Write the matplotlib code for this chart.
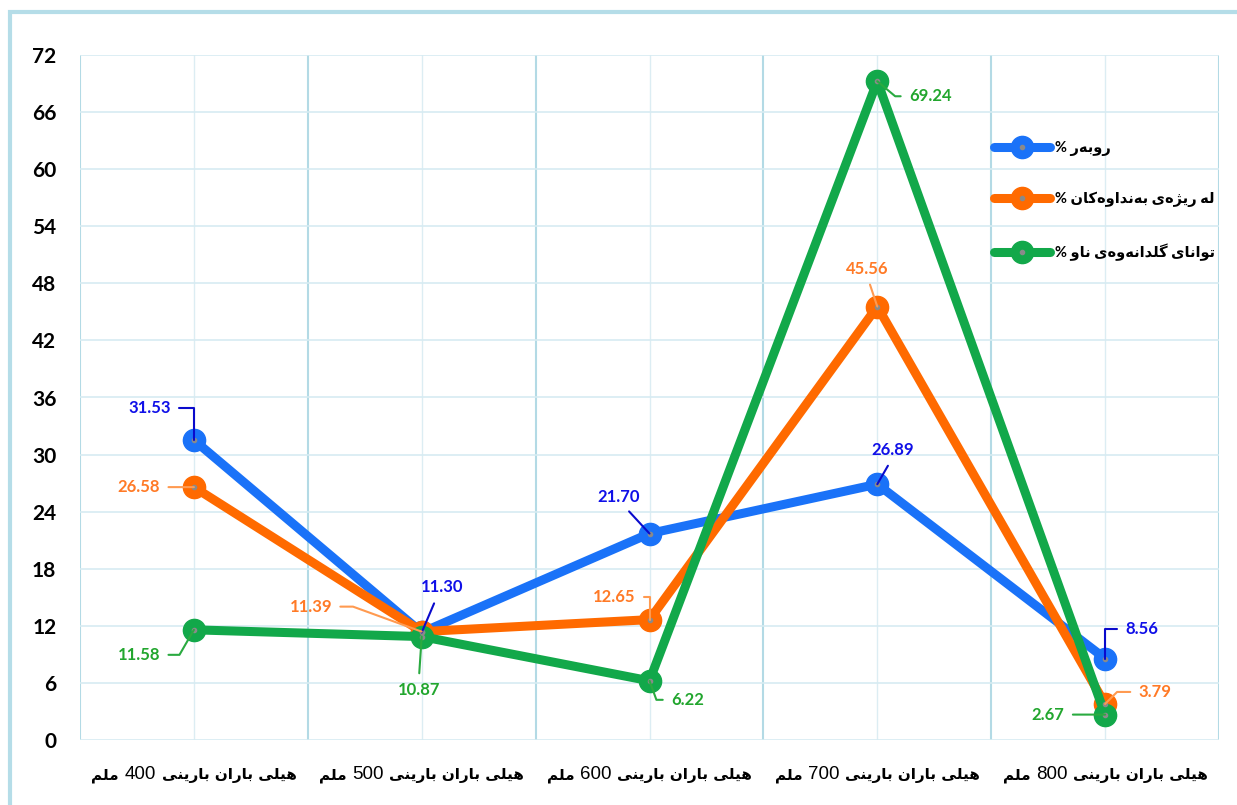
import numpy as np
import matplotlib
matplotlib.use("Agg")
import matplotlib.pyplot as plt
from matplotlib.patches import Rectangle
from matplotlib.offsetbox import TextArea, HPacker, AnnotationBbox


# data
rain = ["400", "500", "600", "700", "800"]
area = [31.53, 11.30, 21.70, 26.89, 8.56]
dams = [26.58, 11.39, 12.65, 45.56, 3.79]
storage = [11.58, 10.87, 6.22, 69.24, 2.67]

names = ["ڕوبەر %", "لە ڕێژەی بەنداوەکان %", "توانای گلدانەوەی ناو %"]
xword = "هێڵی باران بارینی"
unit = "ملم"


# matplotlib does no arabic shaping, so pick the presentation forms by hand
FORMS = {
    'ا': (0xFE8D, 0xFE8E),
    'د': (0xFEA9, 0xFEAA),
    'ر': (0xFEAD, 0xFEAE),
    'ڕ': (0xFEAD, 0xFEAE),
    'ژ': (0xFB8A, 0xFB8B),
    'و': (0xFEED, 0xFEEE),
    'ە': (0xFEE9, 0xFEEA),
    'ب': (0xFE8F, 0xFE90, 0xFE91, 0xFE92),
    'ت': (0xFE95, 0xFE96, 0xFE97, 0xFE98),
    'ل': (0xFEDD, 0xFEDE, 0xFEDF, 0xFEE0),
    'ڵ': (0xFEDD, 0xFEDE, 0xFEDF, 0xFEE0),
    'م': (0xFEE1, 0xFEE2, 0xFEE3, 0xFEE4),
    'ن': (0xFEE5, 0xFEE6, 0xFEE7, 0xFEE8),
    'ه': (0xFEE9, 0xFEEA, 0xFEEB, 0xFEEC),
    'ی': (0xFBFC, 0xFBFD, 0xFBFE, 0xFBFF),
    'ێ': (0xFBFC, 0xFBFD, 0xFBFE, 0xFBFF),
    'ک': (0xFB8E, 0xFB8F, 0xFB90, 0xFB91),
    'گ': (0xFB92, 0xFB93, 0xFB94, 0xFB95),
}


def shape_word(w):
    out = []
    for i, ch in enumerate(w):
        f = FORMS.get(ch)
        if f is None:
            out.append(ch)
            continue
        prev_j = i > 0 and w[i - 1] in FORMS and len(FORMS[w[i - 1]]) == 4
        next_j = len(f) == 4 and i < len(w) - 1 and w[i + 1] in FORMS
        if prev_j and next_j:
            g = f[3]
        elif prev_j:
            g = f[1]
        elif next_j:
            g = f[2]
        else:
            g = f[0]
        out.append(chr(g))
    return ''.join(reversed(out))


def rtl(text):
    words = text.split(' ')
    return ' '.join(shape_word(w) for w in reversed(words))


c_line = ['#1a72f8', '#ff6a00', '#12a84a']
c_lab = ['#1010e8', '#ff7a26', '#22a62e']
c_lead = ['#0a0acc', '#ff9a50', '#2aaa40']

plt.rcParams['font.family'] = ['Lato', 'DejaVu Sans']

fig = plt.figure(figsize=(12.37, 8.05), dpi=100)
fig.patches.append(Rectangle((10 / 1237, -0.05), 1.1, 0.05 + 1 - 12 / 805,
                             transform=fig.transFigure, fill=False,
                             edgecolor='#b5dde8', lw=3))
ax = fig.add_axes([80 / 1237, 1 - 740 / 805, (1219 - 80) / 1237, (740 - 55) / 805])

x = np.arange(len(rain))
series = [area, dams, storage]
handles = []
for s, col in zip(series, c_line):
    ln, = ax.plot(x, s, color=col, lw=6.5, marker='o', ms=16, zorder=3,
                  solid_capstyle='round')
    dot, = ax.plot(x, s, ls='none', marker='o', ms=3, color='#8a8a8a', zorder=4)
    handles.append((ln, dot))

ax.set_xlim(-0.5, 4.5)
ax.set_ylim(0, 72)
ax.set_yticks(np.arange(0, 73, 6))
ax.set_xticks(np.arange(-0.5, 4.6, 1))
ax.set_xticks(x, minor=True)
ax.set_xticklabels([])
ax.grid(axis='y', color='#d7ebf2', lw=1.2)
ax.grid(axis='x', which='major', color='#b3dae5', lw=1.5)
ax.grid(axis='x', which='minor', color='#dcedf3', lw=1)
ax.set_axisbelow(True)
for sp in ax.spines.values():
    sp.set_visible(False)
ax.tick_params(length=0, which='both')
ax.tick_params(axis='y', pad=17)
for t in ax.get_yticklabels():
    t.set_fontweight('bold')
    t.set_fontsize(15)

# x labels: arabic bold, digits regular
for i, r in enumerate(rain):
    parts = [TextArea(shape_word(unit), textprops=dict(family='DejaVu Sans', weight='bold', size=11)),
             TextArea(r, textprops=dict(family='Liberation Sans', size=13.5)),
             TextArea(rtl(xword), textprops=dict(family='DejaVu Sans', weight='bold', size=11))]
    box = HPacker(children=parts, sep=4, align='baseline', pad=0)
    ab = AnnotationBbox(box, (i, 0), xycoords=('data', 'axes fraction'),
                        xybox=(0, -25), boxcoords='offset points',
                        frameon=False, box_alignment=(0.5, 0.5))
    ax.add_artist(ab)

# data labels: (dx, dy) in pixels, relpos, connection style
lab_pos = [
    [(-44, 32, (1, 0.5), 'angle,angleA=0,angleB=90,rad=0'),
     (20, 45, (0.4, 0), 'arc3'),
     (-31, 37, (0.6, 0), 'arc3'),
     (15, 34, (0.5, 0), 'arc3'),
     (37, 30, (0, 0.5), 'angle,angleA=0,angleB=90,rad=0')],
    [(-55, 0, (1, 0.5), 'arc3'),
     (-111, 25, (1, 0.5), 'angle,angleA=0,angleB=-20,rad=0'),
     (-35, 23, (1, 0.5), 'angle,angleA=0,angleB=90,rad=0'),
     (-10, 38, (0.5, 0), 'arc3'),
     (50, 12, (0, 0.5), 'angle,angleA=0,angleB=45,rad=0')],
    [(-55, -25, (1, 0.5), 'angle,angleA=0,angleB=60,rad=0'),
     (-3, -53, (0.5, 1), 'arc3'),
     (38, -19, (0, 0.5), 'angle,angleA=0,angleB=-70,rad=0'),
     (53, -15, (0, 0.5), 'angle,angleA=0,angleB=-40,rad=0'),
     (-57, 0, (1, 0.5), 'arc3')],
]
for k, s in enumerate(series):
    for i, v in enumerate(s):
        dx, dy, rp, cs = lab_pos[k][i]
        ax.annotate(f"{v:.2f}", (i, v), xytext=(dx, dy), textcoords='offset pixels',
                    ha='center', va='center', color=c_lab[k], fontsize=12,
                    fontweight='bold', zorder=6,
                    arrowprops=dict(arrowstyle='-', color=c_lead[k], lw=1.5,
                                    shrinkA=4, shrinkB=0, relpos=rp,
                                    connectionstyle=cs))

leg = ax.legend(handles, [rtl(n) for n in names], loc='upper left',
                bbox_to_anchor=(987 / 1237, 1 - 134 / 805), bbox_transform=fig.transFigure,
                frameon=False, handlelength=3.8, handletextpad=0.35,
                labelspacing=2.45, borderpad=0,
                prop=dict(family=['Lato', 'DejaVu Sans'], weight='bold', size=10.5))

fig.savefig('out.png', dpi=100)
